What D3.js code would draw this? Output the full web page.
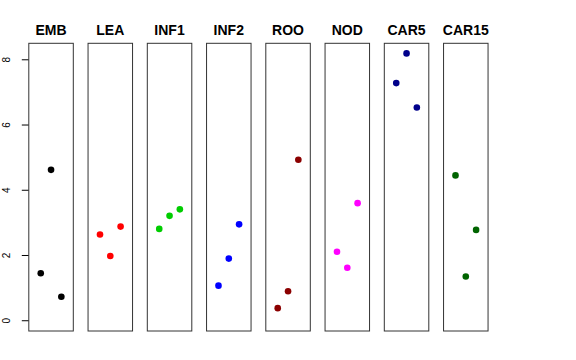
<!DOCTYPE html>
<html><head><meta charset="utf-8">
<script src="https://cdn.jsdelivr.net/npm/d3@7"></script>
<style>body{margin:0;background:#fff;} svg{display:block;}</style>
</head><body>
<svg id="c" width="576" height="360"></svg>
<script>
const categories = ["EMB","LEA","INF1","INF2","ROO","NOD","CAR5","CAR15"];
const colors = ["#000000","#FF0000","#00CD00","#0000FF","#8B0000","#FF00FF","#00008B","#006400"];
const replicate = [1,2,3];
const EMB = [1.44, 4.61, 0.72];
const LEA = [2.63, 1.97, 2.87];
const INF1 = [2.80, 3.20, 3.40];
const INF2 = [1.06, 1.89, 2.94];
const ROO = [0.37, 0.89, 4.92];
const NOD = [2.10, 1.61, 3.59];
const CAR5 = [7.27, 8.18, 6.52];
const CAR15 = [4.44, 1.34, 2.77];
const seriesValues = [EMB, LEA, INF1, INF2, ROO, NOD, CAR5, CAR15];
const yTicks = [0, 2, 4, 6, 8];

(function () {
const svg = d3.select("#c");
const plotTop = 43.3, plotBottom = 331;
const panelX = d3.scaleBand().domain(categories).range([28.8, 488.05]).paddingInner(0.249).paddingOuter(0);
const y = d3.scaleLinear().domain([-0.33, 8.49]).range([plotBottom, plotTop]);
const x = d3.scaleLinear().domain([-0.16, 4.16]).range([0, panelX.bandwidth()]);

// y axis
const yAxis = d3.axisLeft(y).tickValues(yTicks).tickSize(7).tickSizeOuter(0);
const ga = svg.append("g").attr("transform", `translate(${panelX("EMB")},0)`).call(yAxis);
ga.select(".domain").remove();
ga.selectAll(".tick line").attr("stroke", "#000");
ga.selectAll(".tick text")
  .attr("x", null).attr("dy", null)
  .attr("transform", "translate(-18.6,0) rotate(-90)")
  .attr("text-anchor", "middle")
  .attr("font-family", "Liberation Sans, Arial, sans-serif")
  .attr("font-size", 10).attr("fill", "#000");

categories.forEach((cat, i) => {
  const g = svg.append("g").attr("transform", `translate(${panelX(cat)},0)`);
  g.append("rect").attr("x", 0).attr("y", plotTop).attr("width", panelX.bandwidth()).attr("height", plotBottom - plotTop)
    .attr("fill", "none").attr("stroke", "#333").attr("stroke-width", 1);
  g.append("text").attr("x", panelX.bandwidth() / 2).attr("y", 35)
    .attr("text-anchor", "middle").attr("font-family", "Liberation Sans, Arial, sans-serif")
    .attr("font-weight", "bold").attr("font-size", 14).text(cat);
  g.selectAll("circle").data(seriesValues[i]).join("circle")
    .attr("cx", (d, j) => x(replicate[j])).attr("cy", d => y(d)).attr("r", 3.3)
    .attr("fill", colors[i]);
});
})();
</script>
</body></html>
